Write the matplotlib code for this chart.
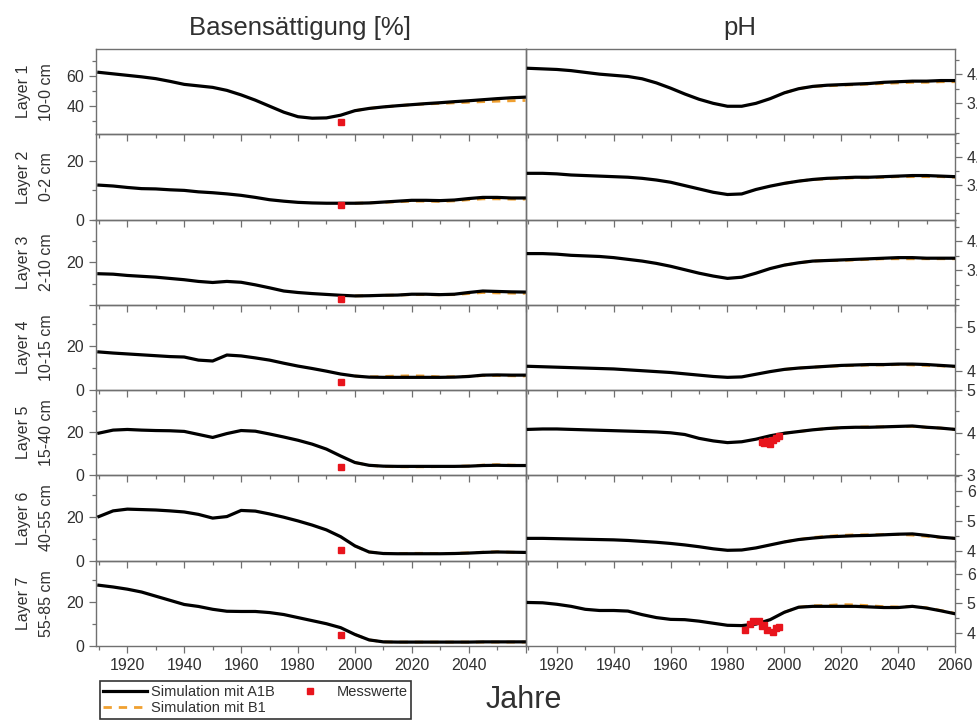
import matplotlib
matplotlib.use('Agg')
import matplotlib.pyplot as plt
from matplotlib.ticker import MultipleLocator, FixedLocator, FixedFormatter

plt.rcParams['font.family'] = ['Liberation Sans', 'DejaVu Sans']

# ---------------------------------------------------------------------------
# Data
# ---------------------------------------------------------------------------
years = list(range(1910, 2061, 5))
years_b1 = list(range(2000, 2061, 5))

layer_names = ['Layer 1', 'Layer 2', 'Layer 3', 'Layer 4', 'Layer 5', 'Layer 6', 'Layer 7']
layer_depths = ['10-0 cm', '0-2 cm', '2-10 cm', '10-15 cm', '15-40 cm', '40-55 cm', '55-85 cm']

# Basensättigung [%], Simulation A1B
bs_a1b = [
    [62.5, 61.5, 60.5, 59.5, 58.3, 56.5, 54.5, 53.5, 52.5, 50.5, 47.5, 44.0, 40.0, 36.0, 33.0, 32.0,
     32.2, 34.0, 37.0, 38.5, 39.5, 40.3, 41.0, 41.7, 42.3, 43.0, 43.6, 44.3, 45.0, 45.6, 46.0],
    [11.8, 11.5, 11.0, 10.6, 10.5, 10.2, 10.0, 9.5, 9.2, 8.8, 8.3, 7.6, 6.8, 6.3, 5.9, 5.7,
     5.6, 5.6, 5.6, 5.7, 6.0, 6.3, 6.6, 6.6, 6.5, 6.7, 7.2, 7.6, 7.6, 7.4, 7.4],
    [14.6, 14.4, 13.8, 13.4, 13.0, 12.4, 11.8, 11.0, 10.5, 11.0, 10.6, 9.4, 8.0, 6.5, 5.8, 5.3,
     4.9, 4.5, 4.2, 4.3, 4.5, 4.6, 5.0, 5.0, 4.8, 5.0, 5.8, 6.5, 6.3, 6.1, 6.0],
    [17.3, 16.8, 16.4, 16.0, 15.6, 15.2, 15.0, 13.6, 13.2, 15.9, 15.5, 14.6, 13.6, 12.2, 10.9, 9.8,
     8.6, 7.3, 6.4, 5.9, 5.8, 5.8, 5.8, 5.8, 5.8, 5.9, 6.2, 6.8, 6.9, 6.8, 6.8],
    [19.6, 21.0, 21.3, 21.0, 20.8, 20.7, 20.4, 19.0, 17.6, 19.4, 20.8, 20.5, 19.2, 17.8, 16.3, 14.5,
     12.2, 9.0, 6.0, 4.7, 4.3, 4.2, 4.2, 4.2, 4.2, 4.2, 4.3, 4.6, 4.7, 4.6, 4.6],
    [20.2, 22.8, 23.6, 23.4, 23.2, 22.8, 22.3, 21.2, 19.5, 20.2, 23.0, 22.7, 21.4, 19.9, 18.2, 16.3,
     14.1, 11.0, 6.8, 4.0, 3.3, 3.2, 3.2, 3.2, 3.2, 3.3, 3.5, 3.8, 4.0, 3.9, 3.8],
    [27.8, 27.0, 26.0, 24.7, 22.8, 20.9, 19.0, 18.1, 16.8, 15.9, 15.8, 15.8, 15.3, 14.4, 13.0, 11.6,
     10.2, 8.4, 5.3, 2.8, 1.9, 1.8, 1.8, 1.8, 1.8, 1.8, 1.8, 1.9, 1.9, 1.9, 1.9],
]

# Basensättigung [%], Simulation B1 (ab 2000)
bs_b1 = [
    [37.0, 38.5, 39.5, 40.3, 41.0, 41.5, 41.8, 42.2, 42.6, 43.0, 43.3, 43.6, 43.8],
    [5.6, 5.7, 5.9, 6.1, 6.3, 6.3, 6.2, 6.4, 6.8, 7.1, 7.1, 7.0, 7.0],
    [4.2, 4.3, 4.5, 4.6, 4.8, 4.8, 4.7, 4.8, 5.3, 5.8, 5.6, 5.5, 5.4],
    [6.4, 6.0, 6.2, 6.4, 6.5, 6.4, 6.0, 6.1, 6.3, 6.6, 6.6, 6.5, 6.4],
    [6.0, 4.7, 4.2, 4.0, 4.0, 4.0, 4.1, 4.2, 4.4, 4.8, 5.0, 4.8, 4.6],
    [6.8, 4.0, 3.4, 3.3, 3.4, 3.4, 3.3, 3.4, 3.6, 3.9, 4.1, 3.9, 3.8],
    [5.3, 2.8, 1.9, 1.8, 1.8, 1.8, 1.8, 1.8, 1.8, 1.8, 1.8, 1.8, 1.8],
]

# Messwerte Basensättigung (1995)
bs_mess_year = 1995
bs_mess = [29.3, 5.1, 2.8, 3.6, 3.7, 5.0, 5.0]

# pH, Simulation A1B
ph_a1b = [
    [4.10, 4.09, 4.08, 4.06, 4.03, 4.00, 3.98, 3.96, 3.92, 3.85, 3.76, 3.66, 3.57, 3.50, 3.45, 3.45,
     3.50, 3.58, 3.68, 3.75, 3.79, 3.81, 3.82, 3.83, 3.84, 3.86, 3.87, 3.88, 3.88, 3.89, 3.89],
    [3.71, 3.71, 3.70, 3.68, 3.67, 3.66, 3.65, 3.64, 3.62, 3.59, 3.55, 3.49, 3.43, 3.37, 3.33, 3.34,
     3.42, 3.48, 3.53, 3.57, 3.60, 3.62, 3.63, 3.64, 3.64, 3.65, 3.66, 3.67, 3.67, 3.66, 3.65],
    [3.79, 3.79, 3.78, 3.76, 3.75, 3.74, 3.72, 3.69, 3.66, 3.62, 3.57, 3.51, 3.45, 3.40, 3.36, 3.38,
     3.45, 3.53, 3.59, 3.63, 3.66, 3.67, 3.68, 3.69, 3.70, 3.71, 3.72, 3.72, 3.71, 3.71, 3.71],
    [4.11, 4.10, 4.09, 4.08, 4.07, 4.06, 4.05, 4.03, 4.01, 3.99, 3.97, 3.94, 3.91, 3.88, 3.86, 3.87,
     3.93, 3.99, 4.04, 4.07, 4.09, 4.11, 4.13, 4.14, 4.15, 4.15, 4.16, 4.16, 4.15, 4.13, 4.11],
    [4.08, 4.09, 4.09, 4.08, 4.07, 4.06, 4.05, 4.04, 4.03, 4.02, 4.00, 3.96, 3.87, 3.81, 3.77, 3.79,
     3.85, 3.93, 3.99, 4.03, 4.07, 4.10, 4.12, 4.13, 4.13, 4.14, 4.15, 4.16, 4.13, 4.11, 4.08],
    [4.42, 4.42, 4.41, 4.40, 4.39, 4.38, 4.37, 4.35, 4.32, 4.29, 4.25, 4.20, 4.14, 4.07, 4.02, 4.03,
     4.10, 4.20, 4.30, 4.38, 4.43, 4.47, 4.49, 4.51, 4.52, 4.54, 4.56, 4.57, 4.52, 4.46, 4.42],
    [5.03, 5.02, 4.97, 4.90, 4.80, 4.76, 4.76, 4.74, 4.62, 4.52, 4.46, 4.45, 4.40, 4.33, 4.26, 4.25,
     4.30, 4.45, 4.70, 4.87, 4.90, 4.90, 4.90, 4.90, 4.88, 4.86, 4.86, 4.90, 4.84, 4.75, 4.65],
]

# pH, Simulation B1 (ab 2000)
ph_b1 = [
    [3.68, 3.75, 3.79, 3.80, 3.81, 3.82, 3.83, 3.84, 3.85, 3.86, 3.86, 3.87, 3.87],
    [3.53, 3.57, 3.60, 3.61, 3.62, 3.63, 3.63, 3.64, 3.65, 3.65, 3.65, 3.65, 3.64],
    [3.59, 3.63, 3.66, 3.67, 3.67, 3.68, 3.69, 3.70, 3.70, 3.70, 3.70, 3.70, 3.70],
    [4.04, 4.07, 4.09, 4.11, 4.12, 4.13, 4.14, 4.14, 4.15, 4.14, 4.13, 4.12, 4.10],
    [3.99, 4.03, 4.07, 4.10, 4.12, 4.13, 4.14, 4.14, 4.15, 4.15, 4.13, 4.11, 4.08],
    [4.30, 4.38, 4.45, 4.49, 4.52, 4.54, 4.54, 4.55, 4.55, 4.53, 4.49, 4.45, 4.42],
    [4.70, 4.87, 4.92, 4.93, 4.96, 4.95, 4.92, 4.89, 4.88, 4.90, 4.85, 4.76, 4.66],
]

# Messwerte pH (Layer 5 und Layer 7)
ph_mess_l5_years = [1992, 1993, 1994, 1995, 1996, 1997, 1998]
ph_mess_l5 = [3.78, 3.75, 3.80, 3.74, 3.82, 3.88, 3.92]
ph_mess_l7_years = [1986, 1988, 1989, 1991, 1992, 1993, 1994, 1996, 1997, 1998]
ph_mess_l7 = [4.10, 4.30, 4.42, 4.42, 4.22, 4.28, 4.10, 4.05, 4.18, 4.20]

# ---------------------------------------------------------------------------
# Axis settings per layer
# ---------------------------------------------------------------------------
bs_ylim = [(21.3, 78), (0, 29.2), (0, 40), (0, 38.6), (0, 39.5), (0, 39), (0, 39)]
bs_ticks = [[40, 60], [0, 20], [0, 20], [0, 20], [0, 20], [0, 20], [0, 20]]
bs_labels = [['40', '60'], ['0', '20'], ['', '20'], ['0', '20'], ['0', '20'], ['0', '20'], ['0', '20']]

ph_ylim = [(2.97, 4.43), (2.88, 4.41), (2.9, 4.38), (3.57, 5.5), (3.0, 5.0), (3.67, 6.53), (3.56, 6.44)]
ph_ticks = [[3.5, 4.0], [3.5, 4.0], [3.5, 4.0], [4, 5], [3, 4, 5], [4, 5, 6], [4, 5, 6]]
ph_minor = [0.25, 0.25, 0.25, 0.5, 0.5, 0.5, 0.5]

COL_A1B = 'black'
COL_B1 = '#f0a030'
COL_MESS = '#e8141c'
COL_AXIS = '#707070'
COL_TEXT = '#303030'

fig = plt.figure(figsize=(9.77, 7.24), dpi=100)
gs = fig.add_gridspec(7, 2, left=0.0983, right=0.9775, top=0.9323, bottom=0.1077,
                      wspace=0, hspace=0)


def style_axes(ax):
    # transparent patch so the outward x ticks stay visible in the panel below
    ax.patch.set_visible(False)
    for sp in ax.spines.values():
        sp.set_color(COL_AXIS)
        sp.set_linewidth(1.0)
    ax.tick_params(which='both', direction='out', colors=COL_AXIS, labelcolor=COL_TEXT,
                   labelsize=11.5, width=0.9)
    ax.tick_params(which='major', length=5)
    ax.tick_params(which='minor', length=3)
    ax.set_xlim(1909, 2060)
    ax.xaxis.set_major_locator(MultipleLocator(20))
    ax.xaxis.set_minor_locator(MultipleLocator(10))


for i in range(7):
    # Basensättigung
    ax = fig.add_subplot(gs[i, 0])
    style_axes(ax)
    ax.plot(years_b1, bs_b1[i], color=COL_B1, lw=2.0, ls=(0, (3, 2.5)), zorder=2)
    ax.plot(years, bs_a1b[i], color=COL_A1B, lw=2.3, zorder=3)
    ax.plot([bs_mess_year], [bs_mess[i]], 's', color=COL_MESS, ms=4.5, mec=COL_MESS, zorder=4)
    ax.set_ylim(*bs_ylim[i])
    ax.yaxis.set_major_locator(FixedLocator(bs_ticks[i]))
    ax.yaxis.set_major_formatter(FixedFormatter(bs_labels[i]))
    ax.yaxis.set_minor_locator(MultipleLocator(10))
    if i < 6:
        ax.tick_params(axis='x', labelbottom=False)
    else:
        ax.set_xticks([1920, 1940, 1960, 1980, 2000, 2020, 2040, 2060])
        ax.set_xticklabels(['1920', '1940', '1960', '1980', '2000', '2020', '2040', ''])
        ax.set_xlim(1909, 2060)

    # Layer-Beschriftung
    pos = ax.get_position()
    yc = (pos.y0 + pos.y1) / 2
    fig.text(0.024, yc, layer_names[i], rotation=90, ha='center', va='center',
             fontsize=11.5, color=COL_TEXT)
    fig.text(0.048, yc, layer_depths[i], rotation=90, ha='center', va='center',
             fontsize=11.5, color=COL_TEXT)

    # pH
    ax2 = fig.add_subplot(gs[i, 1])
    style_axes(ax2)
    ax2.plot(years_b1, ph_b1[i], color=COL_B1, lw=2.0, ls=(0, (3, 2.5)), zorder=2)
    ax2.plot(years, ph_a1b[i], color=COL_A1B, lw=2.3, zorder=3)
    if i == 4:
        ax2.plot(ph_mess_l5_years, ph_mess_l5, 's', color=COL_MESS, ms=4.5, mec=COL_MESS, zorder=4)
    if i == 6:
        ax2.plot(ph_mess_l7_years, ph_mess_l7, 's', color=COL_MESS, ms=4.5, mec=COL_MESS, zorder=4)
    ax2.set_ylim(*ph_ylim[i])
    ax2.yaxis.tick_right()
    ax2.yaxis.set_major_locator(FixedLocator(ph_ticks[i]))
    if i < 3:
        ax2.yaxis.set_major_formatter(FixedFormatter(['%.1f' % t for t in ph_ticks[i]]))
    else:
        ax2.yaxis.set_major_formatter(FixedFormatter(['%d' % t for t in ph_ticks[i]]))
    ax2.yaxis.set_minor_locator(MultipleLocator(ph_minor[i]))
    if i < 6:
        ax2.tick_params(axis='x', labelbottom=False)

# Überschriften
fig.text(0.307, 0.962, 'Basensättigung [%]', ha='center', va='center', fontsize=18.5, color=COL_TEXT)
fig.text(0.757, 0.962, 'pH', ha='center', va='center', fontsize=18.5, color=COL_TEXT)
fig.text(0.536, 0.033, 'Jahre', ha='center', va='center', fontsize=22, color=COL_TEXT)

# Legende
h_a1b, = plt.plot([], [], color=COL_A1B, lw=2.3)
h_b1, = plt.plot([], [], color=COL_B1, lw=2.0, ls=(0, (3, 2.5)))
h_mess, = plt.plot([], [], 's', color=COL_MESS, ms=4.5)
leg = fig.legend([h_a1b, h_b1, h_mess],
                 ['Simulation mit A1B', 'Simulation mit B1', 'Messwerte'],
                 ncol=2, loc='upper left', bbox_to_anchor=(0.102, 0.059),
                 fontsize=10.5, frameon=True, fancybox=False, borderpad=0.25,
                 labelspacing=0.15, handlelength=3.0, handletextpad=0.3,
                 columnspacing=0.9, borderaxespad=0)
leg.get_frame().set_edgecolor('black')
leg.get_frame().set_linewidth(1.2)
for t in leg.get_texts():
    t.set_color(COL_TEXT)

plt.savefig('out.png', dpi=100)
plt.close()
